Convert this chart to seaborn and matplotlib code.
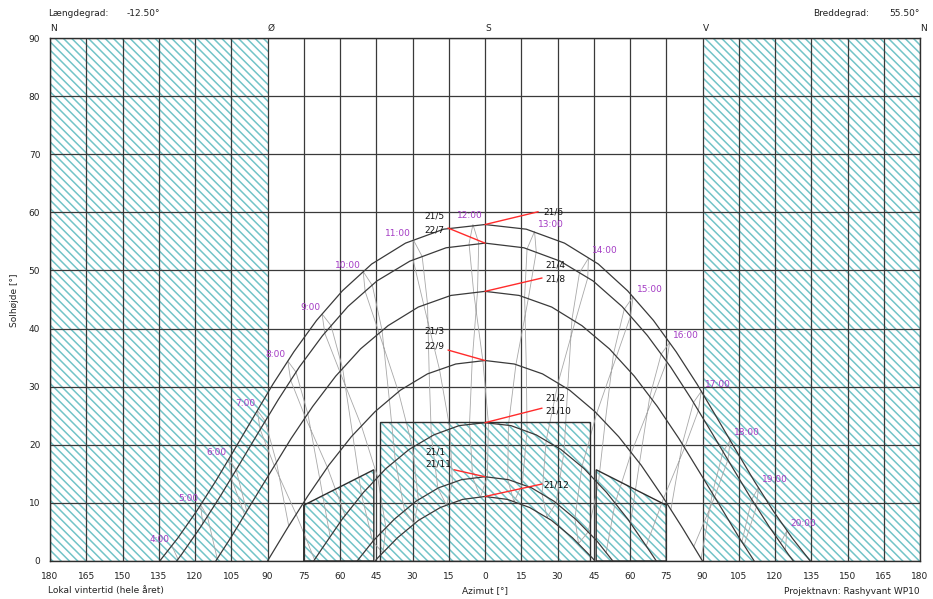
import matplotlib
matplotlib.use("Agg")
import matplotlib.pyplot as plt
from matplotlib.patches import Polygon, Rectangle
import seaborn as sns
import pandas as pd

# ---------------------------------------------------------------- site
LONGITUDE_TXT = "-12.50°"
LATITUDE_TXT = "55.50°"

# ---------------------------------------------------------------- sun paths
# azimuth from south (east negative, west positive), altitude in degrees
jun_az = [-134.6, -127.2, -119.3, -111.5, -103.8, -95.9, -87.8, -79.1, -69.7, -59.0, -46.9, -32.9, -17.1, 0.0,
          17.1, 32.9, 46.9, 59.0, 69.7, 79.1, 87.8, 95.9, 103.8, 111.5, 119.3, 127.2, 134.6]
jun_alt = [0.0, 3.9, 8.6, 13.7, 19.1, 24.7, 30.4, 36.0, 41.4, 46.5, 51.1, 54.7, 57.1, 57.9,
           57.1, 54.7, 51.1, 46.5, 41.4, 36.0, 30.4, 24.7, 19.1, 13.7, 8.6, 3.9, 0.0]

may_az = [-127.6, -125.6, -117.6, -109.6, -101.8, -93.8, -85.5, -76.8, -67.2, -56.7, -44.7, -31.1, -16.1, 0.0,
          16.1, 31.1, 44.7, 56.7, 67.2, 76.8, 85.5, 93.8, 101.8, 109.6, 117.6, 125.6, 127.6]
may_alt = [0.0, 1.1, 5.9, 11.1, 16.5, 22.1, 27.8, 33.4, 38.8, 43.8, 48.2, 51.6, 53.9, 54.7,
           53.9, 51.6, 48.2, 43.8, 38.8, 33.4, 27.8, 22.1, 16.5, 11.1, 5.9, 1.1, 0.0]

apr_az = [-111.4, -104.9, -96.8, -88.6, -80.2, -71.3, -61.8, -51.5, -40.1, -27.6, -14.1, 0.0,
          14.1, 27.6, 40.1, 51.5, 61.8, 71.3, 80.2, 88.6, 96.8, 104.9, 111.4]
apr_alt = [0.0, 4.2, 9.8, 15.4, 21.1, 26.6, 31.8, 36.5, 40.5, 43.7, 45.7, 46.4,
           45.7, 43.7, 40.5, 36.5, 31.8, 26.6, 21.1, 15.4, 9.8, 4.2, 0.0]

mar_az = [-90.0, -81.7, -73.3, -64.6, -55.3, -45.5, -35.0, -23.8, -12.1, 0.0,
          12.1, 23.8, 35.0, 45.5, 55.3, 64.6, 73.3, 81.7, 90.0]
mar_alt = [0.0, 5.7, 11.2, 16.5, 21.4, 25.7, 29.4, 32.2, 33.9, 34.5,
           33.9, 32.2, 29.4, 25.7, 21.4, 16.5, 11.2, 5.7, 0.0]

feb_az = [-70.9, -67.5, -59.1, -50.3, -41.0, -31.4, -21.2, -10.7, 0.0,
          10.7, 21.2, 31.4, 41.0, 50.3, 59.1, 67.5, 70.9]
feb_alt = [0.0, 2.1, 7.2, 11.8, 15.9, 19.2, 21.7, 23.3, 23.8,
           23.3, 21.7, 19.2, 15.9, 11.8, 7.2, 2.1, 0.0]

jan_az = [-52.9, -46.2, -37.5, -28.5, -19.2, -9.7, 0.0, 9.7, 19.2, 28.5, 37.5, 46.2, 52.9]
jan_alt = [0.0, 3.5, 7.2, 10.3, 12.6, 14.0, 14.5, 14.0, 12.6, 10.3, 7.2, 3.5, 0.0]

dec_az = [-45.4, -44.7, -36.2, -27.5, -18.5, -9.3, 0.0, 9.3, 18.5, 27.5, 36.2, 44.7, 45.4]
dec_alt = [0.0, 0.4, 4.0, 7.0, 9.2, 10.6, 11.1, 10.6, 9.2, 7.0, 4.0, 0.4, 0.0]

# ---------------------------------------------------------------- sun at full clock hours (local winter time)
dec21_hours = [9, 10, 11, 12, 13, 14, 15]
dec21_az = [-42.2, -29.3, -15.9, -1.9, 12.0, 25.7, 38.7]
dec21_alt = [1.4, 6.4, 9.6, 11.0, 10.2, 7.5, 3.0]

jan21_hours = [9, 10, 11, 12, 13, 14, 15, 16]
jan21_az = [-46.4, -33.3, -19.5, -5.1, 9.4, 23.6, 37.2, 50.1]
jan21_alt = [3.3, 8.7, 12.5, 14.4, 14.0, 11.5, 7.3, 1.4]

feb21_hours = [8, 9, 10, 11, 12, 13, 14, 15, 16, 17]
feb21_az = [-64.1, -51.1, -37.1, -22.2, -6.4, 9.7, 25.3, 40.1, 53.8, 66.7]
feb21_alt = [4.2, 11.4, 17.2, 21.5, 23.6, 23.4, 20.7, 16.2, 9.9, 2.6]

mar21_hours = [7, 8, 9, 10, 11, 12, 13, 14, 15, 16, 17, 18]
mar21_az = [-81.2, -68.4, -54.7, -39.6, -23.1, -5.3, 12.8, 30.2, 46.2, 60.5, 73.9, 86.4]
mar21_alt = [6.0, 14.2, 21.6, 27.8, 32.3, 34.4, 33.8, 30.6, 25.4, 18.6, 10.8, 2.5]

apr21_hours = [5, 6, 7, 8, 9, 10, 11, 12, 13, 14, 15, 16, 17, 18, 19]
apr21_az = [-110.8, -98.6, -86.3, -73.3, -58.9, -42.6, -23.8, -3.1, 17.9, 37.3, 54.4, 69.2, 82.6, 95.0, 107.2]
apr21_alt = [0.4, 8.6, 17.0, 25.3, 33.1, 39.7, 44.3, 46.4, 45.1, 41.2, 35.2, 27.7, 19.5, 11.0, 2.7]

may21_hours = [4, 5, 6, 7, 8, 9, 10, 11, 12, 13, 14, 15, 16, 17, 18, 19, 20]
may21_az = [-127.0, -114.9, -103.0, -91.0, -78.2, -63.7, -46.6, -26.0, -2.6, 21.2, 42.5, 60.2, 75.2, 88.3,
            100.5, 112.3, 124.3]
may21_alt = [0.3, 7.7, 15.7, 24.1, 32.5, 40.5, 47.4, 52.4, 54.7, 53.2, 48.7, 42.1, 34.3, 25.9, 17.4, 9.3, 1.9]

jun21_hours = [4, 5, 6, 7, 8, 9, 10, 11, 12, 13, 14, 15, 16, 17, 18, 19, 20]
jun21_az = [-129.6, -117.7, -106.0, -94.2, -81.6, -67.4, -50.4, -29.7, -5.0, 20.5, 42.8, 61.3, 76.4, 89.5,
            101.5, 113.2, 124.9]
jun21_alt = [2.6, 9.7, 17.6, 25.9, 34.4, 42.5, 49.8, 55.3, 57.9, 56.7, 52.1, 45.5, 37.6, 29.2, 20.8, 12.7, 5.2]

jul22_hours = [5, 6, 7, 8, 9, 10, 11, 12, 13, 14, 15, 16, 17, 18, 19, 20]
jul22_az = [-116.8, -105.0, -93.1, -80.4, -66.3, -49.6, -29.8, -6.6, 17.4, 39.1, 57.6, 72.9, 86.3, 98.5,
            110.4, 122.3]
jul22_alt = [6.4, 14.3, 22.7, 31.1, 39.2, 46.4, 51.9, 54.6, 53.7, 49.6, 43.3, 35.6, 27.3, 18.8, 10.6, 3.1]

aug21_hours = [6, 7, 8, 9, 10, 11, 12, 13, 14, 15, 16, 17, 18, 19]
aug21_az = [-99.5, -87.2, -74.3, -60.1, -43.8, -25.3, -4.7, 16.4, 36.0, 53.2, 68.2, 81.6, 94.1, 106.3]
aug21_alt = [8.0, 16.4, 24.7, 32.6, 39.2, 44.0, 46.3, 45.4, 41.6, 35.7, 28.3, 20.1, 11.7, 3.3]

sep22_hours = [7, 8, 9, 10, 11, 12, 13, 14, 15, 16, 17, 18]
sep22_az = [-78.1, -65.2, -51.1, -35.8, -18.8, -0.9, 17.1, 34.2, 49.7, 63.9, 76.9, 89.4]
sep22_alt = [8.0, 16.1, 23.2, 29.1, 32.9, 34.5, 33.2, 29.6, 23.8, 16.8, 8.8, 0.4]

oct21_hours = [7, 8, 9, 10, 11, 12, 13, 14, 15, 16]
oct21_az = [-70.5, -57.9, -44.4, -30.0, -14.5, 1.4, 17.4, 32.7, 46.9, 60.2]
oct21_alt = [0.2, 7.8, 14.4, 19.6, 22.7, 23.8, 22.3, 18.8, 13.3, 6.5]

nov21_hours = [9, 10, 11, 12, 13, 14, 15]
nov21_az = [-41.0, -27.6, -13.5, 1.0, 15.4, 29.4, 42.7]
nov21_alt = [5.7, 10.6, 13.5, 14.5, 13.2, 10.0, 5.0]

# ---------------------------------------------------------------- horizon obstructions
wall_west_az = [-75.0, -75.0, -46.0, -46.0]
wall_west_alt = [0.0, 9.6, 15.7, 0.0]
block_az = [-43.3, -43.3, 43.3, 43.3]
block_alt = [0.0, 24.0, 24.0, 0.0]
wall_east_az = [46.0, 46.0, 75.0, 75.0]
wall_east_alt = [0.0, 15.7, 9.6, 0.0]

# ---------------------------------------------------------------- axis labels
x_ticks = list(range(-180, 181, 15))
x_tick_labels = [str(abs(v)) for v in x_ticks]
y_ticks = list(range(0, 91, 10))
compass = [(-180, "N"), (-90, "Ø"), (0, "S"), (90, "V"), (180, "N")]

# ---------------------------------------------------------------- style
sns.set_theme(style="white")
plt.rcParams["font.family"] = ["DejaVu Sans"]
plt.rcParams["hatch.linewidth"] = 1.1

GRID = "#3a3a3a"
HATCH = "#72c4c8"
PATH = "#3a3a3a"
HOURLINE = "#a8a8a8"
HOURTXT = "#a43cc4"
LEADER = "#ff2b2b"
FS = 6.5
HATCH_PATTERN = "\\\\\\\\"

W, H = 933, 599
fig = plt.figure(figsize=(W / 100, H / 100), dpi=100)
fig.patch.set_facecolor("white")
ax = fig.add_axes([50 / W, 1 - 561 / H, 870 / W, 523 / H])
ax.set_xlim(-180, 180)
ax.set_ylim(0, 90)
ax.set_facecolor("white")

# shaded sectors behind the building (north side)
for x0, x1 in [(-180, -90), (90, 180)]:
    ax.add_patch(Rectangle((x0, 0), x1 - x0, 90, facecolor="white", edgecolor=HATCH,
                           hatch=HATCH_PATTERN, lw=0, zorder=1))

# obstructions on the southern horizon
for oaz, oalt in [(wall_west_az, wall_west_alt), (block_az, block_alt), (wall_east_az, wall_east_alt)]:
    pts = list(zip(oaz, oalt))
    ax.add_patch(Polygon(pts, closed=True, facecolor="white", edgecolor=HATCH,
                         hatch=HATCH_PATTERN, lw=0, zorder=1.5))
    ax.add_patch(Polygon(pts, closed=True, fill=False, edgecolor="#2e2e2e", lw=1.0, zorder=3.5))

# grid
for x in x_ticks:
    ax.axvline(x, color=GRID, lw=0.9, zorder=2)
for y in y_ticks:
    ax.axhline(y, color=GRID, lw=0.9, zorder=2)

# hour lines (analemma loops through the year)
year = [
    (dec21_hours, dec21_az, dec21_alt), (jan21_hours, jan21_az, jan21_alt),
    (feb21_hours, feb21_az, feb21_alt), (mar21_hours, mar21_az, mar21_alt),
    (apr21_hours, apr21_az, apr21_alt), (may21_hours, may21_az, may21_alt),
    (jun21_hours, jun21_az, jun21_alt), (jul22_hours, jul22_az, jul22_alt),
    (aug21_hours, aug21_az, aug21_alt), (sep22_hours, sep22_az, sep22_alt),
    (oct21_hours, oct21_az, oct21_alt), (nov21_hours, nov21_az, nov21_alt),
    (dec21_hours, dec21_az, dec21_alt),
]
for hour in range(4, 21):
    seg_x, seg_y = [], []
    for hrs, az, alt in year:
        if hour in hrs:
            i = hrs.index(hour)
            seg_x.append(az[i])
            seg_y.append(alt[i])
        else:
            if len(seg_x) > 1:
                ax.plot(seg_x, seg_y, color=HOURLINE, lw=0.6, zorder=3)
            seg_x, seg_y = [], []
    if len(seg_x) > 1:
        ax.plot(seg_x, seg_y, color=HOURLINE, lw=0.6, zorder=3)

# sun paths
paths = [(jun_az, jun_alt), (may_az, may_alt), (apr_az, apr_alt), (mar_az, mar_alt),
         (feb_az, feb_alt), (jan_az, jan_alt), (dec_az, dec_alt)]
for paz, palt in paths:
    df = pd.DataFrame({"az": paz, "alt": palt})
    sns.lineplot(data=df, x="az", y="alt", sort=False, estimator=None, color=PATH,
                 lw=0.9, ax=ax, zorder=4)

# date labels with leaders to the noon culmination
notes = [
    (["21/6"], 24.0, [60.1], "left", (22.0, 60.1), (jun_az, jun_alt)),
    (["21/5", "22/7"], -25.0, [59.4, 56.9], "left", (-15.3, 57.3), (may_az, may_alt)),
    (["21/4", "21/8"], 24.8, [50.9, 48.5], "left", (23.6, 48.7), (apr_az, apr_alt)),
    (["21/3", "22/9"], -25.0, [39.6, 37.0], "left", (-15.3, 36.3), (mar_az, mar_alt)),
    (["21/2", "21/10"], 24.8, [28.1, 25.8], "left", (23.6, 26.3), (feb_az, feb_alt)),
    (["21/1", "21/11"], -24.8, [18.8, 16.7], "left", (-12.8, 15.7), (jan_az, jan_alt)),
    (["21/12"], 24.0, [13.1], "left", (23.6, 13.25), (dec_az, dec_alt)),
]
for texts, tx, tys, ha, end, (paz, palt) in notes:
    k = palt.index(max(palt))
    ax.plot([paz[k], end[0]], [palt[k], end[1]], color=LEADER, lw=1.0, zorder=5)
    for t, ty in zip(texts, tys):
        ax.text(tx, ty, t, ha=ha, va="center", fontsize=FS, color="#111111", zorder=6)

# hour labels along the midsummer path
for hr, az, alt in zip(jun21_hours, jun21_az, jun21_alt):
    label = f"{hr}:00"
    if hr < 12:
        off, ha = (-1.5, 1.5), "right"
    elif hr == 12:
        off, ha = (-2.0, 3.0), "center"
    else:
        off, ha = (2.5, 2.0), "left"
    ax.annotate(label, (az, alt), xytext=off, textcoords="offset points", ha=ha, va="bottom",
                fontsize=FS, color=HOURTXT, zorder=6)

# axes, ticks
ax.set_xticks(x_ticks)
ax.set_xticklabels(x_tick_labels)
ax.set_yticks(y_ticks)
ax.set_yticklabels([str(v) for v in y_ticks])
ax.tick_params(axis="both", length=0, labelsize=FS, colors="#222222")
ax.tick_params(axis="x", pad=8)
ax.tick_params(axis="y", pad=7)
ax.set_xlabel("")
ax.set_ylabel("")
for s in ax.spines.values():
    s.set_color("#2e2e2e")
    s.set_linewidth(1.0)
    s.set_zorder(7)

for az, letter in compass:
    ax.text(az, 91.7, letter, ha="left", va="center", fontsize=FS, color="#222222", clip_on=False)

# header and footer texts
def ftext(px, py, s, **kw):
    fig.text(px / W, 1 - py / H, s, fontsize=FS, color="#222222", va="center", **kw)

ftext(48, 14, "Længdegrad:", ha="left")
ftext(127, 14, LONGITUDE_TXT, ha="left")
ftext(813, 14, "Breddegrad:", ha="left")
ftext(889, 14, LATITUDE_TXT, ha="left")
ftext(48, 591, "Lokal vintertid (hele året)", ha="left")
ftext(485, 591, "Azimut [°]", ha="center")
ftext(920, 591, "Projektnavn: Rashyvant WP10", ha="right")
fig.text(15 / W, 1 - 300 / H, "Solhøjde [°]", rotation=90, fontsize=FS, color="#222222",
         ha="center", va="center")

fig.savefig("out.png", dpi=100, facecolor="white")
